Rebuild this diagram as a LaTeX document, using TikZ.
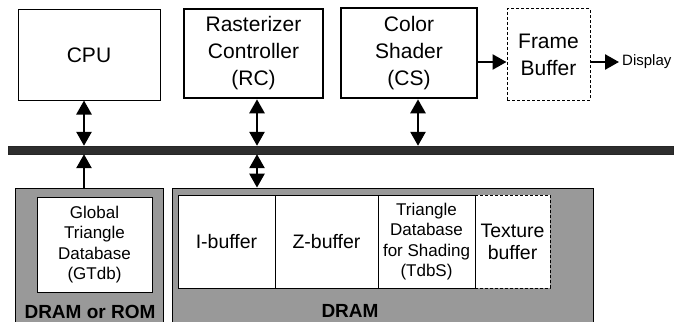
\documentclass[tikz,border=0pt]{standalone}
\usepackage{fontspec}
\setmainfont{Liberation Sans}
\usetikzlibrary{arrows.meta}
\begin{document}
\begin{tikzpicture}[x=1pt,y=-1pt,
  box/.style={draw, line width=1pt, fill=white, inner sep=0pt, align=center},
  thickbox/.style={box, line width=2.6pt},
  dashbox/.style={box, dash pattern=on 3pt off 2pt},
  region/.style={draw=black, line width=0.8pt, fill=black!40, inner sep=0pt},
  arr/.style={line width=2.6pt, -{Triangle[length=14pt,width=15pt]}},
  darr/.style={line width=2.6pt, {Triangle[length=14pt,width=15pt]}-{Triangle[length=14pt,width=15pt]}},
  big/.style={font=\fontsize{21}{27}\selectfont},
  mid/.style={font=\fontsize{19.5}{22}\selectfont},
  small/.style={font=\fontsize{17}{20.5}\selectfont},
  lab/.style={font=\bfseries\fontsize{19}{19}\selectfont, inner sep=0pt}
]
\useasboundingbox (0,0) rectangle (679,321);
\begin{scope}
\clip (0,0) rectangle (679,321);
% top units
\node[box, big, minimum width=142pt, minimum height=90pt] (cpu) at (89,55) {CPU};
\node[thickbox, big, minimum width=139pt, minimum height=89pt] (rc) at (253.5,53.5) {Rasterizer\\Controller\\(RC)};
\node[thickbox, big, minimum width=136pt, minimum height=90pt] (cs) at (409,53) {Color\\Shader\\(CS)};
\node[dashbox, big, minimum width=83pt, minimum height=91pt] (fb) at (548.5,54.5) {Frame\\Buffer};
\node[font=\fontsize{15}{15}\selectfont, anchor=west, inner sep=3pt] (disp) at (619,62) {Display};
% bus
\node[draw=black!85, fill=black!82, minimum width=665pt, minimum height=8pt, inner sep=0pt] (bus) at (340.5,150) {};
% memory regions
\node[region, minimum width=148pt, minimum height=135pt] (rom) at (89,255.5) {};
\node[region, minimum width=421pt, minimum height=135pt] (dram) at (382.5,255.5) {};
\node[box, small, minimum width=115pt, minimum height=95pt] (gtdb) at (94.5,244.5) {Global\\Triangle\\Database\\(GTdb)};
\node[box, mid, minimum width=97pt, minimum height=93pt] (ib) at (226.5,241.5) {I-buffer};
\node[box, mid, minimum width=103pt, minimum height=93pt] (zb) at (326.5,241.5) {Z-buffer};
\node[dashbox, mid, minimum width=75pt, minimum height=93pt] (tex) at (512.5,241.5) {Texture\\buffer};
\node[box, small, minimum width=97pt, minimum height=93pt] (tdbs) at (426.5,241.5) {Triangle\\Database\\for Shading\\(TdbS)};
\node[lab] (romlab) at (90,312) {DRAM or ROM};
\node[lab] (dramlab) at (350,311) {DRAM};
\end{scope}
% arrow columns
\coordinate (xa) at (84,0);
\coordinate (xb) at (257,0);
\coordinate (xc) at (418,0);
\draw[darr] (cpu.south -| xa) -- (bus.north -| xa);
\draw[darr] (rc.south -| xb) -- (bus.north -| xb);
\draw[darr] (bus.south -| xb) -- (dram.north -| xb);
\draw[darr] (cs.south -| xc) -- (bus.north -| xc);
\draw[arr] (rom.north -| xa) -- (bus.south -| xa);
\draw[arr] (cs.east |- disp.west) -- (fb.west |- disp.west);
\draw[arr] (fb.east |- disp.west) -- (disp.west);
\end{tikzpicture}
\end{document}
